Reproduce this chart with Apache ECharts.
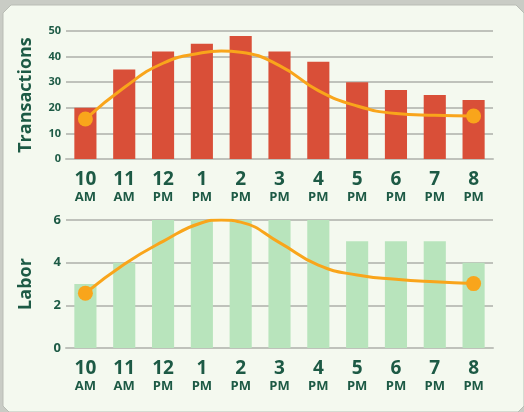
<!DOCTYPE html>
<html><head><meta charset="utf-8">
<script src="https://cdn.jsdelivr.net/npm/echarts@6/dist/echarts.min.js"></script>
<style>html,body{margin:0;padding:0;background:#c9ccc5;}#c{width:524px;height:412px;}</style>
</head><body><div id="c"></div>
<script>
const hours = ['10','11','12','1','2','3','4','5','6','7','8'];
const periods = ['AM','AM','PM','PM','PM','PM','PM','PM','PM','PM','PM'];
const transactions = [20,35,42,45,48,42,38,30,27,25,23];
const labor = [3,4,6,6,6,6,6,5,5,5,4];
// trend curves at category positions (index), incl. peak between 1 PM and 2 PM
const trendPos = [0,1,2,3,3.5,4,5,6,7,8,9,10];
const transactionsTrend = [15.6,27.9,37.4,41.5,42.2,41.7,36.5,26.7,20.7,17.8,17.1,16.8];
const laborTrend = [2.57,3.93,5.0,5.87,6.0,5.9,4.94,3.88,3.42,3.22,3.1,3.02];
const transTicks = [0,10,20,30,40,50];
const laborTicks = [0,2,4,6];

const TEXT = '#1d5a45';
const GRID = '#bfc2bb';
const ORANGE = '#f9a51b';
const FONT = 'Open Sans';
const cats = hours.map((h,i)=>h+'|'+periods[i]);

function xAxis(gi){
  return {type:'category', gridIndex:gi, data:cats,
    axisLine:{show:true,lineStyle:{color:GRID,width:2}}, axisTick:{show:false},
    axisLabel:{margin:11, interval:0, formatter:v=>{const p=v.split('|');return '{n|'+p[0]+'}\n{p|'+p[1]+'}';},
      rich:{n:{fontFamily:FONT,fontWeight:'bold',fontSize:19,color:TEXT,lineHeight:20},
            p:{fontFamily:FONT,fontWeight:'bold',fontSize:13,color:TEXT,lineHeight:15}}}};
}
function xValAxis(gi){
  return {type:'value', gridIndex:gi, min:-0.5, max:hours.length-0.5, show:false};
}
function yAxis(gi,name,max,interval,fs){
  return {type:'value', gridIndex:gi, min:0, max:max, interval:interval, name:name,
    nameLocation:'middle', nameGap:31, nameRotate:90,
    nameTextStyle:{fontFamily:FONT,fontWeight:'bold',fontSize:18,color:TEXT},
    axisLine:{show:false}, axisTick:{show:false},
    axisLabel:{margin:5,fontFamily:FONT,fontWeight:'bold',fontSize:fs,color:TEXT},
    splitLine:{lineStyle:{color:GRID,width:2}}};
}
function trend(vals){
  return vals.map((v,i)=>({value:[trendPos[i],v], symbol:(i===0||i===vals.length-1)?'circle':'none'}));
}
const chart = echarts.init(document.getElementById('c'));
chart.setOption({
  animation:false,
  graphic:[{type:'polygon',z:-10,silent:true,shape:{points:[[3,13],[11,5],[516,5],[524,13],[524,406],[518,412],[9,412],[3,406]]},
    style:{fill:'#f4f9ef',stroke:'#b9bdb5',lineWidth:1}}],
  grid:[{left:66,top:31,width:427,height:128},{left:66,top:220,width:427,height:128}],
  xAxis:[xAxis(0),xAxis(1),xValAxis(0),xValAxis(1)],
  yAxis:[yAxis(0,'Transactions',transTicks[transTicks.length-1],10,11),yAxis(1,'Labor',laborTicks[laborTicks.length-1],2,13)],
  series:[
    {type:'bar',xAxisIndex:0,yAxisIndex:0,data:transactions,barCategoryGap:'43%',itemStyle:{color:'#d94f38'}},
    {type:'line',xAxisIndex:2,yAxisIndex:0,data:trend(transactionsTrend),smooth:0.5,symbolSize:15,
      lineStyle:{color:ORANGE,width:3},itemStyle:{color:ORANGE}},
    {type:'bar',xAxisIndex:1,yAxisIndex:1,data:labor,barCategoryGap:'43%',itemStyle:{color:'#b8e4bc'}},
    {type:'line',xAxisIndex:3,yAxisIndex:1,data:trend(laborTrend),smooth:0.5,symbolSize:15,
      lineStyle:{color:ORANGE,width:3},itemStyle:{color:ORANGE}}
  ]
});
</script></body></html>
